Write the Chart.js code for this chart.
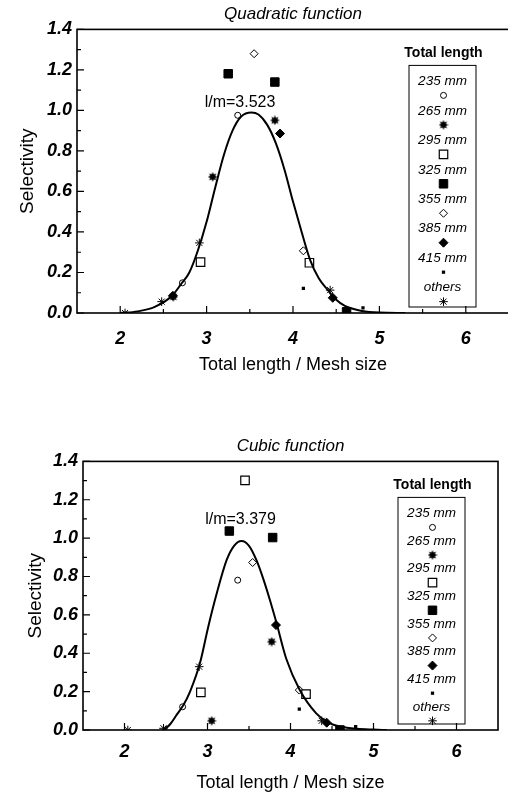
<!DOCTYPE html>
<html>
<head>
<meta charset="utf-8">
<script src="https://cdn.jsdelivr.net/npm/chart.js@4.4.0/dist/chart.umd.min.js"></script>
<style>
    html, body { margin: 0; padding: 0; background: #fff; overflow: hidden; }
    body { width: 508px; height: 796px; position: relative; }
    .plot { position: absolute; left: 0; }
</style>
</head>
<body>
<div class="plot" style="top:0px"><canvas id="quadratic-chart" width="520" height="380"></canvas></div>
<div class="plot" style="top:432px"><canvas id="cubic-chart" width="508" height="364"></canvas></div>
<script>
const xTicks = [2, 3, 4, 5, 6];
const xMinorTicks = [2.5, 3.5, 4.5, 5.5];
const yTicks = [0, 0.2, 0.4, 0.6, 0.8, 1.0, 1.2, 1.4];
const yMinorTicks = [0.1, 0.3, 0.5, 0.7, 0.9, 1.1, 1.3];
const legendLabels = ['235 mm', '265 mm', '295 mm', '325 mm', '355 mm', '385 mm', '415 mm', 'others'];

// Quadratic function (top)
const quadCurveX = [2.0, 2.2, 2.4, 2.6, 2.7, 2.8, 2.9, 3.0, 3.1, 3.2, 3.3, 3.4, 3.52, 3.6, 3.7, 3.8, 3.9, 4.0, 4.1, 4.2, 4.3, 4.4, 4.5, 4.6, 4.8, 5.0, 5.3];
const quadCurveY = [0.0, 0.008, 0.03, 0.085, 0.14, 0.2, 0.31, 0.45, 0.62, 0.78, 0.9, 0.97, 0.99, 0.98, 0.93, 0.84, 0.71, 0.55, 0.4, 0.26, 0.17, 0.115, 0.065, 0.035, 0.01, 0.002, 0.0];
const quad235 = [[3.36, 0.976], [2.72, 0.149]];
const quad265 = [[3.79, 0.951], [3.07, 0.672], [2.615, 0.08]];
const quad295 = [[2.93, 0.251], [4.19, 0.248]];
const quad325 = [[3.25, 1.181], [3.79, 1.14], [4.62, 0.006]];
const quad355 = [[3.55, 1.28], [4.12, 0.307]];
const quad385 = [[3.85, 0.886], [4.46, 0.075], [2.61, 0.085]];
const quad415 = [[4.12, 0.122], [4.81, 0.025]];
const quadOthers = [[2.056, 0.0], [2.48, 0.056], [2.916, 0.346], [4.43, 0.113]];
const quadPeak = { text: 'l/m=3.523', x: 3.387, y: 1.041 };

// Cubic function (bottom)
const cubicCurveX = [2.47, 2.55, 2.63, 2.71, 2.79, 2.91, 3.01, 3.11, 3.23, 3.32, 3.41, 3.5, 3.59, 3.67, 3.75, 3.83, 3.95, 4.11, 4.31, 4.45, 4.6, 4.8, 5.0, 5.16];
const cubicCurveY = [0.0, 0.03, 0.08, 0.13, 0.2, 0.35, 0.54, 0.71, 0.885, 0.96, 0.985, 0.96, 0.885, 0.79, 0.68, 0.56, 0.37, 0.21, 0.087, 0.04, 0.018, 0.006, 0.002, 0.0];
const cubic235 = [[3.364, 0.781], [2.70, 0.121]];
const cubic265 = [[3.773, 0.46], [3.05, 0.048]];
const cubic295 = [[3.452, 1.301], [2.92, 0.196], [4.187, 0.187]];
const cubic325 = [[3.263, 1.037], [3.785, 1.003], [4.596, 0.0]];
const cubic355 = [[3.544, 0.873], [4.106, 0.208]];
const cubic385 = [[3.825, 0.547], [4.436, 0.038]];
const cubic415 = [[4.106, 0.109], [4.785, 0.017]];
const cubicOthers = [[2.04, 0.0], [2.47, 0.009], [2.90, 0.33], [4.376, 0.048]];
const cubicPeak = { text: 'l/m=3.379', x: 3.398, y: 1.098 };

const FONT = '"Liberation Sans", Arial, sans-serif';

function makeFilledStar(size) {
    let c = document.createElement('canvas');
    c.width = size;
    c.height = size;
    let g = c.getContext('2d');
    let r = size / 2;
    g.beginPath();
    for (let i = 0; i < 16; i++) {
        let a = i * Math.PI / 8 - Math.PI / 2;
        let rr = i % 2 === 0 ? r : r * 0.55;
        g.lineTo(r + rr * Math.cos(a), r + rr * Math.sin(a));
    }
    g.closePath();
    g.fillStyle = '#000';
    g.fill();
    return c;
}

const filledStar = makeFilledStar(10);

// marker look for each legend entry, same order as legendLabels
const markerStyles = [
    { pointStyle: 'circle', radius: 3, fill: '#fff', border: 1 },
    { pointStyle: filledStar, radius: 5, fill: '#000', border: 0 },
    { pointStyle: 'rect', radius: 6, fill: '#fff', border: 1.2 },
    { pointStyle: 'rect', radius: 6, fill: '#000', border: 1 },
    { pointStyle: 'rectRot', radius: 4, fill: '#fff', border: 1 },
    { pointStyle: 'rectRot', radius: 4.5, fill: '#000', border: 1 },
    { pointStyle: 'rect', radius: 2.3, fill: '#000', border: 0 },
    { pointStyle: 'star', radius: 4.3, fill: '#000', border: 1 }
];

function toPoints(pairs) {
    return pairs.map(function(p) { return { x: p[0], y: p[1] }; });
}

function curvePoints(xs, ys) {
    return xs.map(function(x, i) { return { x: x, y: ys[i] }; });
}

const framePlugin = {
    id: 'frame',
    beforeDatasetsDraw(chart) {
        let a = chart.chartArea;
        let ctx = chart.ctx;
        let xs = chart.scales.x;
        let ys = chart.scales.y;
        ctx.save();
        ctx.strokeStyle = '#000';
        ctx.lineWidth = 1.6;
        ctx.strokeRect(a.left, a.top, a.right - a.left, a.bottom - a.top);
        ctx.lineWidth = 1.2;
        ctx.beginPath();
        xTicks.forEach(function(v) {
            let px = xs.getPixelForValue(v);
            ctx.moveTo(px, a.bottom);
            ctx.lineTo(px, a.bottom - 7);
        });
        xMinorTicks.forEach(function(v) {
            let px = xs.getPixelForValue(v);
            ctx.moveTo(px, a.bottom);
            ctx.lineTo(px, a.bottom - 4);
        });
        yTicks.forEach(function(v) {
            let py = ys.getPixelForValue(v);
            ctx.moveTo(a.left, py);
            ctx.lineTo(a.left + 7, py);
        });
        yMinorTicks.forEach(function(v) {
            let py = ys.getPixelForValue(v);
            ctx.moveTo(a.left, py);
            ctx.lineTo(a.left + 4, py);
        });
        ctx.stroke();
        ctx.restore();
    }
};

const boxLegendPlugin = {
    id: 'boxLegend',
    afterDraw(chart) {
        let a = chart.chartArea;
        let ctx = chart.ctx;
        let left = a.right - 100;
        let right = a.right - 33;
        let top = a.top + 36;
        let bottom = a.bottom - 6;
        let cx = (left + right) / 2;
        let step = (bottom - top) / 8.2;

        ctx.save();
        ctx.strokeStyle = '#000';
        ctx.lineWidth = 1;
        ctx.strokeRect(left, top, right - left, bottom - top);
        ctx.fillStyle = '#000';
        ctx.textAlign = 'center';
        ctx.textBaseline = 'middle';
        ctx.font = 'bold 14px ' + FONT;
        ctx.fillText('Total length', cx + 1, top - 12);

        legendLabels.forEach(function(label, i) {
            let y = top + 16 + i * step;
            ctx.fillStyle = '#000';
            ctx.font = 'italic 13.5px ' + FONT;
            ctx.fillText(label, cx, y);

            let m = markerStyles[i];
            ctx.fillStyle = m.fill;
            ctx.strokeStyle = '#000';
            ctx.lineWidth = m.border;
            Chart.helpers.drawPoint(ctx, {
                pointStyle: m.pointStyle,
                radius: m.radius,
                rotation: 0,
                borderWidth: m.border
            }, cx + 1, y + 14);
        });
        ctx.restore();
    }
};

const peakLabelPlugin = {
    id: 'peakLabel',
    afterDatasetsDraw(chart, args, opts) {
        let ctx = chart.ctx;
        ctx.save();
        ctx.fillStyle = '#000';
        ctx.font = '16px ' + FONT;
        ctx.textAlign = 'center';
        ctx.textBaseline = 'middle';
        ctx.fillText(opts.text, chart.scales.x.getPixelForValue(opts.x), chart.scales.y.getPixelForValue(opts.y));
        ctx.restore();
    }
};

function getChartConfig(title, curveX, curveY, series, peak, geo) {
    let datasets = [{
        type: 'line',
        data: curvePoints(curveX, curveY),
        borderColor: '#000',
        borderWidth: 2,
        pointRadius: 0,
        showLine: true,
        fill: false,
        cubicInterpolationMode: 'monotone'
    }];
    series.forEach(function(s, i) {
        let m = markerStyles[i];
        datasets.push({
            label: legendLabels[i],
            data: toPoints(s),
            pointStyle: m.pointStyle,
            pointRadius: m.radius,
            pointBackgroundColor: m.fill,
            pointBorderColor: '#000',
            pointBorderWidth: m.border,
            showLine: false
        });
    });

    return {
        type: 'scatter',
        data: { datasets: datasets },
        options: {
            responsive: false,
            animation: false,
            devicePixelRatio: 1,
            layout: { padding: { left: 0, right: geo.padRight, top: 0, bottom: 0 } },
            scales: {
                x: {
                    type: 'linear',
                    min: 1.5,
                    max: 6.5,
                    grid: { display: false, drawTicks: false },
                    border: { display: false },
                    afterBuildTicks: function(scale) {
                        scale.ticks = xTicks.map(function(v) { return { value: v }; });
                    },
                    afterFit: function(scale) {
                        scale.height = geo.xHeight;
                    },
                    ticks: {
                        color: '#000',
                        padding: geo.xTickPad,
                        font: { family: FONT, size: 18, style: 'italic', weight: 'bold' }
                    },
                    title: {
                        display: true,
                        text: 'Total length / Mesh size',
                        color: '#000',
                        font: { family: FONT, size: 18 },
                        padding: { top: 0, bottom: geo.xTitlePad }
                    }
                },
                y: {
                    min: 0,
                    max: 1.4,
                    grid: { display: false, drawTicks: false },
                    border: { display: false },
                    afterBuildTicks: function(scale) {
                        scale.ticks = yTicks.map(function(v) { return { value: v }; });
                    },
                    afterFit: function(scale) {
                        scale.width = geo.yWidth;
                    },
                    ticks: {
                        color: '#000',
                        padding: 5,
                        font: { family: FONT, size: 18, style: 'italic', weight: 'bold' },
                        callback: function(v) { return Number(v).toFixed(1); }
                    },
                    title: {
                        display: true,
                        text: 'Selectivity',
                        color: '#000',
                        font: { family: FONT, size: 19 },
                        padding: { top: geo.yTitlePad, bottom: 0 }
                    }
                }
            },
            plugins: {
                legend: { display: false },
                tooltip: { enabled: false },
                title: {
                    display: true,
                    text: title,
                    color: '#000',
                    fullSize: false,
                    font: { family: FONT, size: 17, style: 'italic', weight: 'normal' },
                    padding: { top: 4, bottom: 5 }
                },
                peakLabel: peak
            }
        },
        plugins: [framePlugin, boxLegendPlugin, peakLabelPlugin]
    };
}

new Chart(document.getElementById('quadratic-chart'), getChartConfig(
    'Quadratic function', quadCurveX, quadCurveY,
    [quad235, quad265, quad295, quad325, quad355, quad385, quad415, quadOthers],
    quadPeak,
    { padRight: 11, xHeight: 67, xTickPad: 15, xTitlePad: 4, yWidth: 77, yTitlePad: 16 }
));

new Chart(document.getElementById('cubic-chart'), getChartConfig(
    'Cubic function', cubicCurveX, cubicCurveY,
    [cubic235, cubic265, cubic295, cubic325, cubic355, cubic385, cubic415, cubicOthers],
    cubicPeak,
    { padRight: 10, xHeight: 66, xTickPad: 11, xTitlePad: 2, yWidth: 83, yTitlePad: 24 }
));
</script>
</body>
</html>
